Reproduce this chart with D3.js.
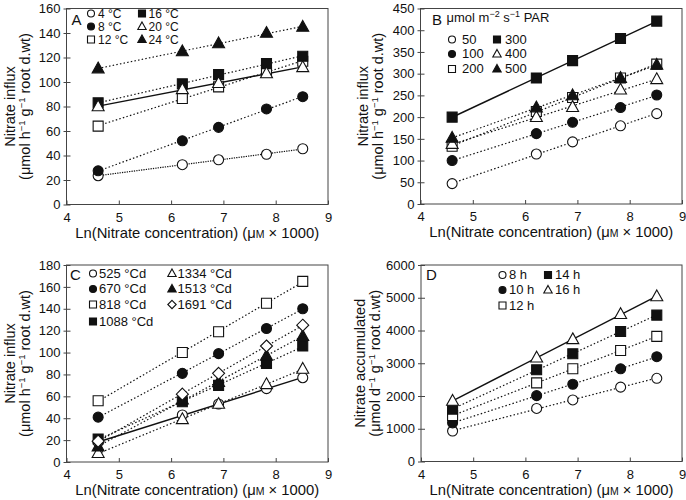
<!DOCTYPE html>
<html><head><meta charset="utf-8">
<script src="https://cdn.jsdelivr.net/npm/d3@7"></script>
<style>html,body{margin:0;padding:0;background:#fff;} text{font-family:"Liberation Sans",Arial,Helvetica,sans-serif;fill:#111;}</style>
</head><body><svg id="c" width="686" height="500"></svg>
<script>
// ---------- DATA ----------
const xValues = [4.605, 6.215, 6.908, 7.824, 8.517];
const xTicks = [4, 5, 6, 7, 8, 9];

const seriesA = ["4 °C", "8 °C", "12 °C", "16 °C", "20 °C", "24 °C"];
const valuesA = [
  [23.5, 32.5, 36.5, 41, 45.5],
  [27.5, 52, 63, 78, 88],
  [64, 86.5, 96, 108, 117],
  [83, 98.5, 106, 115, 121],
  [80, 94, 99, 107, 112],
  [111, 125, 131.5, 140, 145]
];
const yTicksA = [0, 20, 40, 60, 80, 100, 120, 140, 160];

const seriesB = ["50", "100", "200", "300", "400", "500"];
const valuesB = [
  [47, 115, 143, 180, 208],
  [100, 162, 188, 222, 251],
  [133, 213, 245, 290, 322],
  [200, 290, 330, 381, 421],
  [138, 200, 223, 263, 287],
  [152, 222, 250, 290, 320]
];
const yTicksB = [0, 50, 100, 150, 200, 250, 300, 350, 400, 450];

const seriesC = ["525 °Cd", "670 °Cd", "818 °Cd", "1088 °Cd", "1334 °Cd", "1513 °Cd", "1691 °Cd"];
const valuesC = [
  [18, 43, 53, 67, 77],
  [41, 81, 99, 122, 140],
  [56, 100, 119, 145, 165],
  [21, 55, 70, 90, 106],
  [8, 39, 53, 71, 85],
  [14, 57, 73, 97, 115],
  [19, 62, 81, 106, 125]
];
const yTicksC = [0, 20, 40, 60, 80, 100, 120, 140, 160, 180];

const seriesD = ["8 h", "10 h", "12 h", "14 h", "16 h"];
const valuesD = [
  [930, 1620, 1880, 2270, 2540],
  [1180, 2010, 2360, 2830, 3200],
  [1400, 2400, 2830, 3390, 3820],
  [1600, 2800, 3290, 3970, 4470],
  [1850, 3170, 3730, 4500, 5040]
];
const yTicksD = [0, 1000, 2000, 3000, 4000, 5000, 6000];

// ---------- DRAWING ----------
const svg = d3.select("#c");
svg.append("rect").attr("width", 686).attr("height", 500).attr("fill", "#fff");

const markerTypes = ["oc", "fc", "os", "fs", "ot", "ft", "od"];

function symPath(type, s) {
  const k = type[1];
  if (k === "c") return d3.symbol(d3.symbolCircle, Math.PI * (s / 2) * (s / 2))();
  if (k === "s") return d3.symbol(d3.symbolSquare, s * s)();
  if (k === "t") {
    const w = s * 1.2, h = w * 0.9;
    return `M0,${-h * 0.6}L${w / 2},${h * 0.4}L${-w / 2},${h * 0.4}Z`;
  }
  if (k === "d") {
    const r = s * 0.6;
    return `M0,${-r}L${r},0L0,${r}L${-r},0Z`;
  }
}
function drawSym(g, type, x, y, s) {
  g.append("path").attr("d", symPath(type, s))
    .attr("transform", `translate(${x},${y})`)
    .attr("fill", type[0] === "f" ? "#111" : "#fff")
    .attr("stroke", "#111").attr("stroke-width", 1.1);
}

function fit(xs, ys) {
  const mx = d3.mean(xs), my = d3.mean(ys);
  let num = 0, den = 0;
  xs.forEach((x, i) => { num += (x - mx) * (ys[i] - my); den += (x - mx) * (x - mx); });
  const b = num / den;
  return { a: my - b * mx, b };
}

function richText(t, parts, supSize) {
  let pending = 0;
  parts.forEach(p => {
    const ts = t.append("tspan").text(p.t);
    if (p.sup) { ts.attr("font-size", supSize).attr("dy", -5 + pending); pending = 5; }
    else if (pending) { ts.attr("dy", pending); pending = 0; }
  });
}

function panel(cfg) {
  const { x0, x1, y0, y1, ymax, yTicks, series, values, solid, dense } = cfg;
  const xs = d3.scaleLinear().domain([4, 9]).range([x0, x1]);
  const ys = d3.scaleLinear().domain([0, ymax]).range([y1, y0]);
  const g = svg.append("g");

  g.append("rect").attr("x", x0).attr("y", y0).attr("width", x1 - x0).attr("height", y1 - y0)
    .attr("fill", "none").attr("stroke", "#444").attr("stroke-width", 1);

  const xa = g.append("g").attr("transform", `translate(0,${y1})`)
    .call(d3.axisBottom(xs).tickValues(xTicks).tickSize(-4).tickPadding(8).tickFormat(d3.format("d")));
  xa.select(".domain").remove();
  xa.selectAll("line").attr("stroke", "#444");
  xa.selectAll("text").attr("font-size", 13).attr("fill", "#111");

  const ya = g.append("g").attr("transform", `translate(${x0},0)`)
    .call(d3.axisLeft(ys).tickValues(yTicks).tickSize(4).tickPadding(2).tickFormat(d3.format("d")));
  ya.select(".domain").remove();
  ya.selectAll("line").attr("stroke", "#444").attr("x2", 4).attr("x1", -3);
  ya.selectAll("text").attr("font-size", 13).attr("fill", "#111");

  const xt = g.append("text").attr("x", (x0 + x1) / 2).attr("y", y1 + 33)
    .attr("text-anchor", "middle").attr("font-size", 14.8);
  xt.append("tspan").text("Ln(Nitrate concentration) (μ");
  xt.append("tspan").attr("font-size", 10.5).text("M");
  xt.append("tspan").text(" × 1000)");

  const cy = (y0 + y1) / 2;
  g.append("text").attr("transform", `translate(${cfg.yt},${cy}) rotate(-90)`)
    .attr("text-anchor", "middle").attr("font-size", 14.5).text(cfg.ytitle);
  const yt2 = g.append("text").attr("transform", `translate(${cfg.yt + 15},${cy}) rotate(-90)`)
    .attr("text-anchor", "middle").attr("font-size", 14.5);
  richText(yt2, cfg.yunit, 9.5);

  g.append("text").attr("x", cfg.letterPos[0]).attr("y", cfg.letterPos[1]).attr("font-size", 15).text(cfg.letter);

  values.forEach((vals, i) => {
    const f = fit(xValues, vals);
    const xa0 = xValues[0], xa1 = xValues[xValues.length - 1];
    g.append("line")
      .attr("x1", xs(xa0)).attr("y1", ys(f.a + f.b * xa0))
      .attr("x2", xs(xa1)).attr("y2", ys(f.a + f.b * xa1))
      .attr("stroke", "#111")
      .attr("stroke-width", i === solid ? 1.4 : 1.2)
      .attr("stroke-dasharray", i === solid ? null : (i === dense ? "1.3,1.1" : "1.5,2.2"));
  });
  values.forEach((vals, i) => {
    vals.forEach((v, j) => drawSym(g, markerTypes[i], xs(xValues[j]), ys(v), cfg.msize));
  });

  const L = cfg.legend;
  if (L.title) {
    const t = g.append("text").attr("x", L.title[0]).attr("y", L.title[1]).attr("font-size", 13);
    richText(t, [{ t: "μmol m" }, { t: "−2", sup: 1 }, { t: " s" }, { t: "−1", sup: 1 }, { t: " PAR" }], 9);
  }
  series.forEach((name, i) => {
    const col = i < L.perCol ? 0 : 1;
    const row = i < L.perCol ? i : i - L.perCol;
    const yy = L.rows[row];
    drawSym(g, markerTypes[i], L.symX[col], yy, 7);
    g.append("text").attr("x", L.textX[col]).attr("y", yy + 4.3).attr("font-size", L.fs || 13).text(name);
  });
}

const unitInflux = [{ t: "(μmol h" }, { t: "−1", sup: 1 }, { t: " g" }, { t: "−1", sup: 1 }, { t: " root d.wt)" }];
const unitAccum = [{ t: "(μmol d" }, { t: "−1", sup: 1 }, { t: " g" }, { t: "−1", sup: 1 }, { t: " root d.wt)" }];

panel({ x0: 66.5, x1: 328, y0: 8.5, y1: 204.5, ymax: 160, yTicks: yTicksA, series: seriesA, values: valuesA,
  solid: 4, dense: 0, msize: 10, yt: 15, ytitle: "Nitrate influx", yunit: unitInflux,
  letter: "A", letterPos: [71.5, 25],
  legend: { fs: 12, perCol: 3, rows: [13.5, 26.5, 39.5], symX: [91, 142], textX: [98, 148.5] } });

panel({ x0: 420.5, x1: 682, y0: 8.5, y1: 204, ymax: 450, yTicks: yTicksB, series: seriesB, values: valuesB,
  solid: 3, dense: -1, msize: 10, yt: 368, ytitle: "Nitrate influx", yunit: unitInflux,
  letter: "B", letterPos: [432, 24.5],
  legend: { title: [446.5, 22], perCol: 3, rows: [39.5, 54, 69], symX: [452, 497], textX: [462, 505] } });

panel({ x0: 66.5, x1: 328, y0: 265, y1: 462, ymax: 180, yTicks: yTicksC, series: seriesC, values: valuesC,
  solid: 0, dense: -1, msize: 10, yt: 15, ytitle: "Nitrate influx", yunit: unitInflux,
  letter: "C", letterPos: [70, 279.5],
  legend: { perCol: 4, rows: [273.5, 289, 304.5, 321.5], symX: [93, 172], textX: [99, 177.5] } });

panel({ x0: 421, x1: 682, y0: 265, y1: 461.5, ymax: 6000, yTicks: yTicksD, series: seriesD, values: valuesD,
  solid: 4, dense: -1, msize: 10, yt: 364.5, ytitle: "Nitrate accumulated", yunit: unitAccum,
  letter: "D", letterPos: [426, 279.5],
  legend: { perCol: 3, rows: [275, 290, 305.5], symX: [502.5, 548], textX: [509, 555] } });
</script></body></html>
